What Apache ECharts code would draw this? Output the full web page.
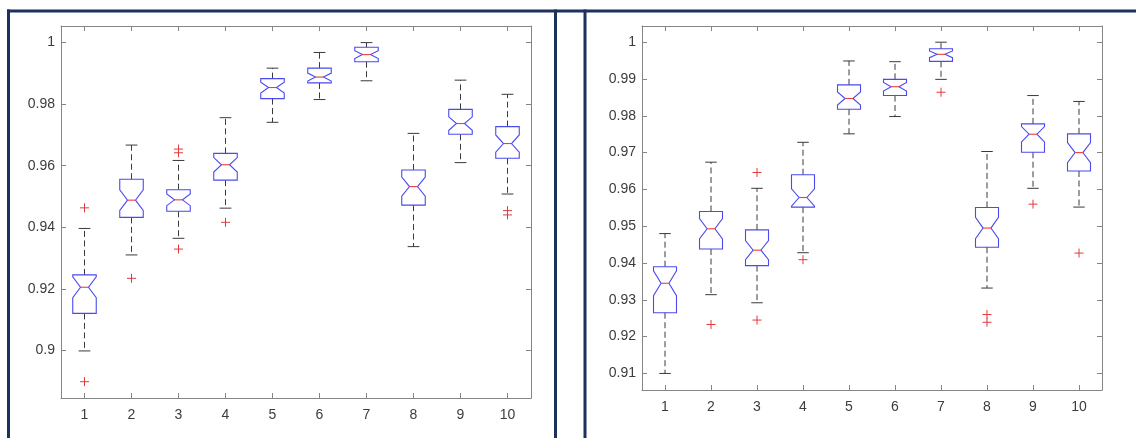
<!DOCTYPE html>
<html><head><meta charset="utf-8">
<script src="https://cdn.jsdelivr.net/npm/echarts@6/dist/echarts.min.js"></script>
<style>html,body{margin:0;padding:0;background:#fff}#c{width:1136px;height:438px}</style>
</head><body><div id="c"></div>
<script>
// ---------- data ----------
const categories = [1, 2, 3, 4, 5, 6, 7, 8, 9, 10];
const xTicks = [1, 2, 3, 4, 5, 6, 7, 8, 9, 10];
const yTicksA = [0.9, 0.92, 0.94, 0.96, 0.98, 1];
const yTicksB = [0.91, 0.92, 0.93, 0.94, 0.95, 0.96, 0.97, 0.98, 0.99, 1];

// left panel
const lowA  = [0.8998, 0.9310, 0.9364, 0.9462, 0.9741, 0.9815, 0.9876, 0.9337, 0.9610, 0.9508];
const q1A   = [0.9120, 0.9432, 0.9452, 0.9553, 0.9818, 0.9869, 0.9938, 0.9472, 0.9702, 0.9624];
const medA  = [0.9205, 0.9488, 0.9489, 0.9603, 0.9854, 0.9888, 0.9961, 0.9532, 0.9737, 0.9672];
const q3A   = [0.9245, 0.9556, 0.9522, 0.9640, 0.9883, 0.9917, 0.9985, 0.9586, 0.9783, 0.9727];
const highA = [0.9396, 0.9667, 0.9617, 0.9756, 0.9917, 0.9968, 1.0000, 0.9705, 0.9878, 0.9832];
const outA  = [[1, 0.9463], [1, 0.8898], [2, 0.9234], [3, 0.9654], [3, 0.9642], [3, 0.9329],
               [4, 0.9416], [10, 0.9454], [10, 0.9440]];

// right panel
const lowB  = [0.9100, 0.9314, 0.9292, 0.9428, 0.9751, 0.9798, 0.9899, 0.9332, 0.9603, 0.9552];
const q1B   = [0.9265, 0.9438, 0.9393, 0.9552, 0.9818, 0.9855, 0.9948, 0.9443, 0.9701, 0.9650];
const medB  = [0.9345, 0.9493, 0.9435, 0.9578, 0.9847, 0.9879, 0.9967, 0.9495, 0.9750, 0.9700];
const q3B   = [0.9390, 0.9540, 0.9490, 0.9640, 0.9884, 0.9899, 0.9982, 0.9551, 0.9778, 0.9751];
const highB = [0.9480, 0.9674, 0.9603, 0.9728, 0.9949, 0.9947, 1.0000, 0.9703, 0.9855, 0.9839];
const outB  = [[2, 0.9233], [3, 0.9646], [3, 0.9245], [4, 0.9409], [7, 0.9864], [8, 0.9260],
               [8, 0.9239], [9, 0.9560], [10, 0.9427]];

// ---------- styling ----------
const FONT = '"Liberation Sans", Arial, Helvetica, sans-serif';
const AXIS_COLOR = '#858585';
const LABEL_COLOR = '#3c3c3c';
const BOX_COLOR = '#4a4af0';
const MED_COLOR = '#f03c3c';
const WHISK_COLOR = '#3a3a3a';
const OUT_COLOR = '#e23a3a';
const NAVY = '#1b315e';

function boxData(low, q1, med, q3, high) {
  return categories.map((c, i) => [c, low[i], q1[i], med[i], q3[i], high[i]]);
}

function renderBox(params, api) {
  const x = api.value(0), lo = api.value(1), q1 = api.value(2),
        md = api.value(3), q3 = api.value(4), hi = api.value(5);
  const w = 0.25, nw = 0.085, cw = 0.125;
  const nt = 0.27 * (q3 - q1);
  const P = (a, b) => api.coord([a, b]);
  const dash = {stroke: WHISK_COLOR, lineWidth: 1, lineDash: [6, 3.5]};
  const solid = {stroke: WHISK_COLOR, lineWidth: 1};
  const line = (a, b, st) => ({type: 'line', shape: {x1: a[0], y1: a[1], x2: b[0], y2: b[1]}, style: st});
  const ch = [];
  ch.push(line(P(x, q3), P(x, hi), dash));
  ch.push(line(P(x, q1), P(x, lo), dash));
  ch.push(line(P(x - cw, hi), P(x + cw, hi), solid));
  ch.push(line(P(x - cw, lo), P(x + cw, lo), solid));
  const pts = [
    P(x - w, q3), P(x + w, q3), P(x + w, md + nt), P(x + nw, md), P(x + w, md - nt),
    P(x + w, q1), P(x - w, q1), P(x - w, md - nt), P(x - nw, md), P(x - w, md + nt)
  ];
  ch.push({type: 'polygon', shape: {points: pts}, style: {fill: 'none', stroke: BOX_COLOR, lineWidth: 1.1}});
  ch.push(line(P(x - nw, md), P(x + nw, md), {stroke: MED_COLOR, lineWidth: 1.1}));
  return {type: 'group', children: ch};
}

function renderPlus(params, api) {
  const c = api.coord([api.value(0), api.value(1)]);
  const s = 4.5;
  const st = {stroke: OUT_COLOR, lineWidth: 1};
  return {type: 'group', children: [
    {type: 'line', shape: {x1: c[0] - s, y1: c[1], x2: c[0] + s, y2: c[1]}, style: st},
    {type: 'line', shape: {x1: c[0], y1: c[1] - s, x2: c[0], y2: c[1] + s}, style: st}
  ]};
}

function xAx(gridIndex, pos, labels) {
  return {
    type: 'value', gridIndex, position: pos, min: 0.5, max: 10.5,
    axisLine: {show: true, onZero: false, lineStyle: {color: AXIS_COLOR, width: 1}},
    axisTick: {show: true, inside: true, length: 5, customValues: xTicks, lineStyle: {color: AXIS_COLOR}},
    axisLabel: {show: labels, customValues: xTicks, color: LABEL_COLOR, fontSize: 14, fontFamily: FONT, margin: 10},
    splitLine: {show: false}
  };
}
function yAx(gridIndex, pos, labels, min, max, ticks) {
  return {
    type: 'value', gridIndex, position: pos, min, max,
    axisLine: {show: true, onZero: false, lineStyle: {color: AXIS_COLOR, width: 1}},
    axisTick: {show: true, inside: true, length: 5, customValues: ticks, lineStyle: {color: AXIS_COLOR}},
    axisLabel: {show: labels, customValues: ticks, color: LABEL_COLOR, fontSize: 14, fontFamily: FONT, margin: 6},
    splitLine: {show: false}
  };
}

const chart = echarts.init(document.getElementById('c'), null, {renderer: 'canvas'});
chart.setOption({
  backgroundColor: '#ffffff',
  animation: false,
  grid: [
    {left: 61, top: 26, width: 470, height: 372, containLabel: false},
    {left: 642, top: 26, width: 460, height: 364, containLabel: false}
  ],
  xAxis: [xAx(0, 'bottom', true), xAx(0, 'top', false), xAx(1, 'bottom', true), xAx(1, 'top', false)],
  yAxis: [
    yAx(0, 'left', true, 0.8845, 1.0054, yTicksA), yAx(0, 'right', false, 0.8845, 1.0054, yTicksA),
    yAx(1, 'left', true, 0.9055, 1.0044, yTicksB), yAx(1, 'right', false, 0.9055, 1.0044, yTicksB)
  ],
  graphic: [
    {type: 'rect', shape: {x: 7, y: 9.5, width: 1129, height: 3}, style: {fill: NAVY}, silent: true},
    {type: 'rect', shape: {x: 7, y: 9.5, width: 3, height: 430}, style: {fill: NAVY}, silent: true},
    {type: 'rect', shape: {x: 554, y: 9.5, width: 3, height: 430}, style: {fill: NAVY}, silent: true},
    {type: 'rect', shape: {x: 583.5, y: 9.5, width: 3, height: 430}, style: {fill: NAVY}, silent: true}
  ],
  series: [
    {type: 'custom', xAxisIndex: 0, yAxisIndex: 0, renderItem: renderBox,
     data: boxData(lowA, q1A, medA, q3A, highA), encode: {x: 0, y: [1, 2, 3, 4, 5]}, clip: false},
    {type: 'custom', xAxisIndex: 0, yAxisIndex: 0, renderItem: renderPlus, data: outA, encode: {x: 0, y: 1}},
    {type: 'custom', xAxisIndex: 2, yAxisIndex: 2, renderItem: renderBox,
     data: boxData(lowB, q1B, medB, q3B, highB), encode: {x: 0, y: [1, 2, 3, 4, 5]}, clip: false},
    {type: 'custom', xAxisIndex: 2, yAxisIndex: 2, renderItem: renderPlus, data: outB, encode: {x: 0, y: 1}}
  ]
});
</script></body></html>
